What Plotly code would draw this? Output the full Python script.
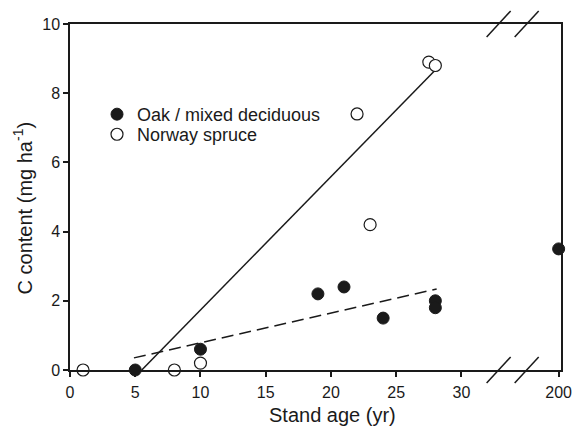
import plotly.graph_objects as go

# ---- data ----
oak_age = [5, 10, 19, 21, 24, 28, 28, 200]
oak_c = [0.0, 0.6, 2.2, 2.4, 1.5, 2.0, 1.8, 3.5]
spruce_age = [1, 8, 10, 22, 23, 27.5, 28]
spruce_c = [0.0, 0.0, 0.2, 7.4, 4.2, 8.9, 8.8]

# fitted lines (end points as drawn)
spruce_fit_age = [5.5, 28]
spruce_fit_c = [0.0, 8.67]
oak_fit_age = [4.9, 28.1]
oak_fit_c = [0.35, 2.34]

tick_ages = [0, 5, 10, 15, 20, 25, 30, 200]
tick_labels = ["0", "5", "10", "15", "20", "25", "30", "200"]
y_ticks = [0, 2, 4, 6, 8, 10]

# ---- broken x axis: linear 0..~35, then the 200 position ----
BREAK_AT = 35.0
POS_200 = 37.45
X_MAX = 37.63
BREAK_MARKS = [32.85, 35.0]


def xpos(age):
    if age <= BREAK_AT:
        return age
    return POS_200 + (age - 200) * 0.05


def xs(ages):
    return [xpos(a) for a in ages]


FONT = "Liberation Sans, Arial, Helvetica, sans-serif"
INK = "#1a1a1a"

fig = go.Figure()

fig.add_trace(go.Scatter(
    x=xs(spruce_fit_age), y=spruce_fit_c, mode="lines",
    line=dict(color=INK, width=1.5), showlegend=False, hoverinfo="skip"))
fig.add_trace(go.Scatter(
    x=xs(oak_fit_age), y=oak_fit_c, mode="lines",
    line=dict(color=INK, width=1.5, dash="12px,6px"), showlegend=False,
    hoverinfo="skip"))

fig.add_trace(go.Scatter(
    x=xs(oak_age), y=oak_c, mode="markers", name="Oak / mixed deciduous",
    marker=dict(symbol="circle", size=12, color=INK,
                line=dict(color=INK, width=1)),
    cliponaxis=False, legend="legend"))
fig.add_trace(go.Scatter(
    x=xs(spruce_age), y=spruce_c, mode="markers", name="Norway spruce",
    marker=dict(symbol="circle", size=12, color="white",
                line=dict(color=INK, width=1.2)),
    cliponaxis=False, legend="legend2"))

# break marks on the top and bottom axis lines (paper refs: not clipped)
for bx in BREAK_MARKS:
    for by in (0, 1):
        fig.add_shape(type="line", xref="paper", yref="paper",
                      xsizemode="pixel", xanchor=bx / X_MAX, x0=-12, x1=12,
                      ysizemode="pixel", yanchor=by, y0=-13, y1=13,
                      line=dict(color=INK, width=1.5))

# axis titles as annotations (placed like the reference)
fig.add_annotation(text="Stand age (yr)", xref="paper", yref="paper",
                   x=0.535, y=-0.13, xanchor="center", yanchor="middle",
                   showarrow=False, font=dict(size=20, color=INK))
fig.add_annotation(text="C content (mg ha<sup>-1</sup>)", xref="paper",
                   yref="paper", x=-0.097, y=0.468, xanchor="center",
                   yanchor="middle", textangle=-90, showarrow=False,
                   font=dict(size=20, color=INK))

leg_common = dict(xanchor="left", yanchor="top", bgcolor="rgba(0,0,0,0)",
                  font=dict(size=18, color=INK), itemclick=False,
                  itemdoubleclick=False)

fig.update_layout(
    width=584, height=434,
    margin=dict(l=70, r=21, t=24, b=64),
    paper_bgcolor="white", plot_bgcolor="white",
    font=dict(family=FONT, color=INK, size=16),
    showlegend=True,
    legend=dict(x=0.055, y=0.792, **leg_common),
    legend2=dict(x=0.055, y=0.734, **leg_common),
)

fig.update_xaxes(
    range=[0, X_MAX], tickmode="array",
    tickvals=xs(tick_ages), ticktext=tick_labels,
    showgrid=False, zeroline=False,
    showline=True, linecolor=INK, linewidth=1.5, mirror=True,
    ticks="outside", ticklen=5, tickwidth=1.5, tickcolor=INK,
    tickfont=dict(size=16), ticklabelstandoff=2,
)
fig.update_yaxes(
    range=[0, 10], tickmode="array", tickvals=y_ticks,
    showgrid=False, zeroline=False,
    showline=True, linecolor=INK, linewidth=1.5, mirror=True,
    ticks="outside", ticklen=5, tickwidth=1.5, tickcolor=INK,
    tickfont=dict(size=16),
)

fig.write_html(
    "out.html",
    config={"displayModeBar": False},
    post_script="document.body.style.margin='0';"
                "document.body.style.overflow='hidden';",
)
